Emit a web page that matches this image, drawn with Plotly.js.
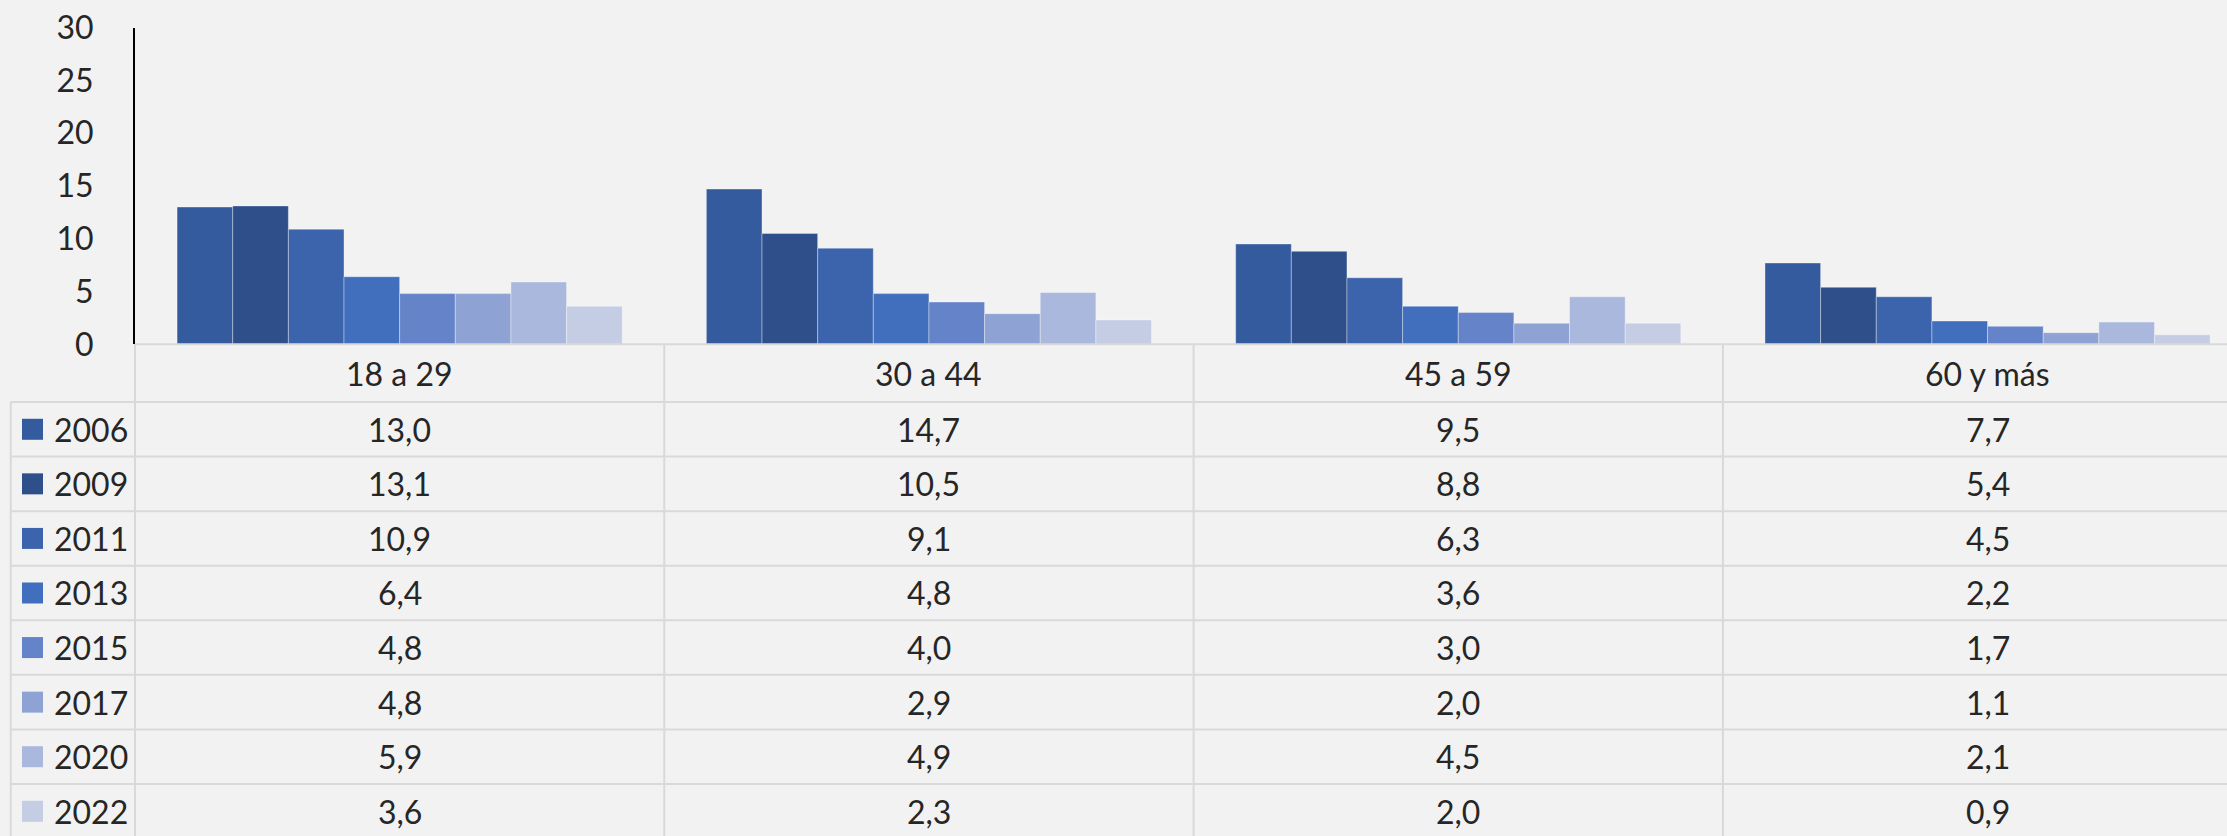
<!DOCTYPE html>
<html>
<head>
<meta charset="utf-8">
<script src="https://cdn.plot.ly/plotly-3.0.1.min.js"></script>
<style>
  html, body { margin: 0; padding: 0; background: #F2F2F2; }
  #chart { width: 2227px; height: 836px; }
</style>
</head>
<body>
<div id="chart"></div>
<script>
// ---- Data ----
const categories = ["18 a 29", "30 a 44", "45 a 59", "60 y más"];
const years = ["2006", "2009", "2011", "2013", "2015", "2017", "2020", "2022"];
const v2006 = [13.0, 14.7, 9.5, 7.7];
const v2009 = [13.1, 10.5, 8.8, 5.4];
const v2011 = [10.9, 9.1, 6.3, 4.5];
const v2013 = [6.4, 4.8, 3.6, 2.2];
const v2015 = [4.8, 4.0, 3.0, 1.7];
const v2017 = [4.8, 2.9, 2.0, 1.1];
const v2020 = [5.9, 4.9, 4.5, 2.1];
const v2022 = [3.6, 2.3, 2.0, 0.9];
const yTicks = [0, 5, 10, 15, 20, 25, 30];

const series = [v2006, v2009, v2011, v2013, v2015, v2017, v2020, v2022];
const colors = ["#355B9F", "#2E4F89", "#3C64AC", "#416FBD", "#6483C9", "#8FA2D4", "#ABB8DD", "#C5CDE5"];

// ---- Geometry (pixels) ----
const W = 2227, H = 836;
const plotLeft = 135;
const plotTop = 27.5, plotBottom = 344.3;
const colW = 529.3;
const tableLeft = 10.7;
const headerBottom = 402;
const rowH = 54.57;
const gridColor = "#D9D9D9";
const textColor = "#262626";
const FONT = "Lato, 'Open Sans', sans-serif";
const FS = 32;

const px = p => (p - plotLeft) / (W - plotLeft);
const py = p => 1 - p / H;
const xIdx = categories.map((c, i) => i);
const xEnd = -0.5 + (W - plotLeft) / colW;

const traces = years.map((yr, k) => ({
  type: "bar",
  name: yr,
  x: xIdx,
  y: series[k],
  marker: { color: colors[k], line: { color: "rgba(255,255,255,0.35)", width: 1 } },
  hoverinfo: "skip"
}));

const shapes = [];
const annotations = [];
const line = (x0, y0, x1, y1) => shapes.push({
  type: "line", xref: "paper", yref: "paper",
  x0: px(x0), x1: px(x1), y0: py(y0), y1: py(y1),
  line: { color: gridColor, width: 2 }
});

// top (baseline) line of table
line(plotLeft, plotBottom, W, plotBottom);
// horizontal row lines
const bottomAll = headerBottom + rowH * years.length;
for (let r = 0; r < years.length; r++) {
  const y = headerBottom + r * rowH;
  line(tableLeft, y, W, y);
}
// vertical lines
line(tableLeft, headerBottom, tableLeft, H + 5);
for (let c = 0; c < categories.length; c++) {
  const x = plotLeft + c * colW;
  line(x, plotBottom, x, H + 5);
}

// header labels
categories.forEach((c, i) => annotations.push({
  xref: "x", yref: "paper", x: i, y: py((plotBottom + headerBottom) / 2),
  text: c, showarrow: false, xanchor: "center", yanchor: "middle",
  font: { family: FONT, size: FS, color: textColor }
}));

// rows
years.forEach((yr, r) => {
  const yc = headerBottom + r * rowH + rowH / 2;
  shapes.push({
    type: "rect", xref: "paper", yref: "paper",
    x0: px(22), x1: px(43), y0: py(yc - 10.5), y1: py(yc + 10.5),
    fillcolor: colors[r], line: { width: 0 }
  });
  annotations.push({
    xref: "paper", yref: "paper", x: px(52), y: py(yc),
    text: yr, showarrow: false, xanchor: "left", yanchor: "middle",
    font: { family: FONT, size: FS, color: textColor }
  });
  series[r].forEach((v, i) => annotations.push({
    xref: "x", yref: "paper", x: i, y: py(yc),
    text: v.toFixed(1).replace(".", ","), showarrow: false, xanchor: "center", yanchor: "middle",
    font: { family: FONT, size: FS, color: textColor }
  }));
});

const layout = {
  width: W, height: H,
  margin: { l: plotLeft, r: 0, t: 0, b: 0, pad: 0 },
  paper_bgcolor: "#F2F2F2",
  plot_bgcolor: "#F2F2F2",
  barmode: "group",
  bargap: 0.159,
  bargroupgap: 0,
  showlegend: false,
  hovermode: false,
  xaxis: {
    range: [-0.5, xEnd], showticklabels: false, ticks: "", showgrid: false,
    zeroline: false, showline: false, fixedrange: true
  },
  yaxis: {
    domain: [py(plotBottom), py(plotTop)],
    range: [0, 30], tickvals: yTicks, ticktext: yTicks.map(String),
    showgrid: false, zeroline: false,
    showline: true, linecolor: "#000000", linewidth: 2,
    ticks: "", ticklabelstandoff: 33,
    tickfont: { family: FONT, size: FS, color: textColor },
    fixedrange: true
  },
  shapes: shapes,
  annotations: annotations
};

Plotly.newPlot("chart", traces, layout, { displayModeBar: false, staticPlot: true });
</script>
</body>
</html>
